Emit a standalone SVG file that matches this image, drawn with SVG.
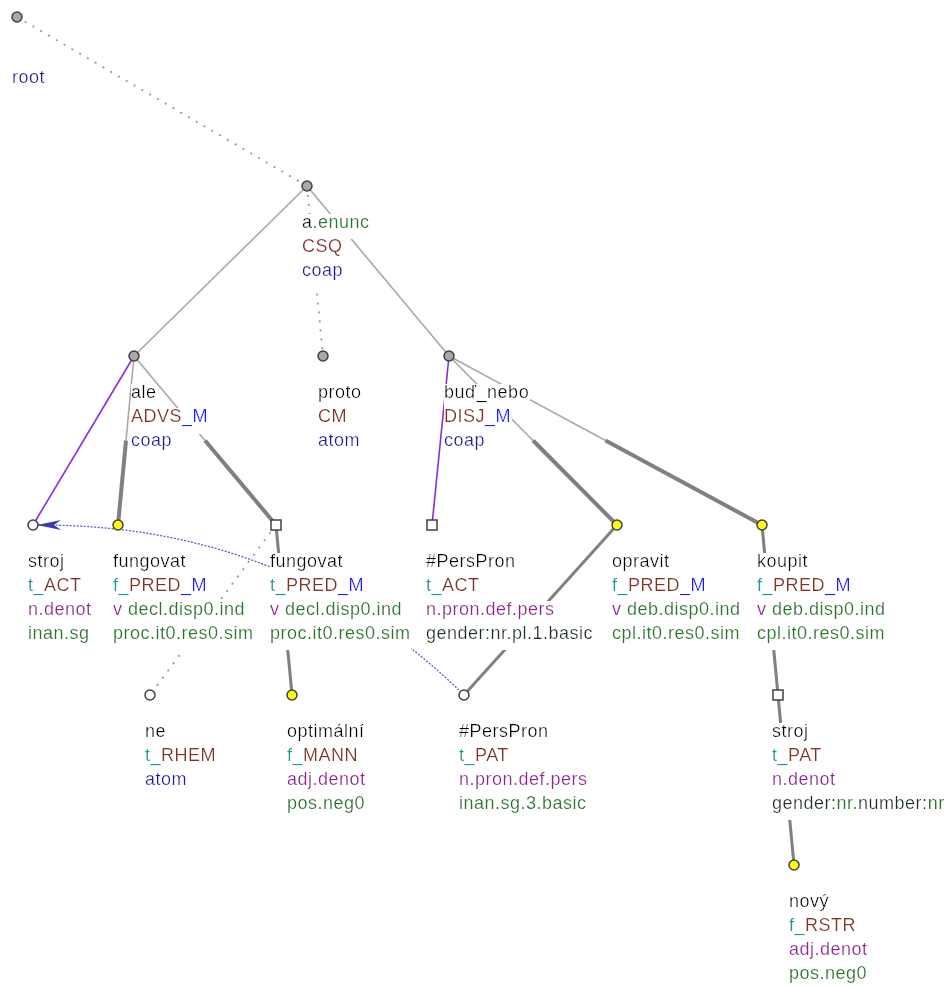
<svg xmlns="http://www.w3.org/2000/svg" width="952" height="987" viewBox="0 0 952 987">
<style>
text{font-family:"Liberation Sans",Arial,sans-serif;font-size:18px;letter-spacing:0.5px;fill:#000;filter:url(#bg)}
.k{fill:#000}.g{fill:#1e7d1e}.br{fill:#85321e}.bl{fill:#1a1aff}.nv{fill:#1a1aa6}.tl{fill:#0a9c9c}.pu{fill:#9a1a9a}.dk{fill:#16301c}
.thin{stroke:#a8a8a8;stroke-width:1.6;fill:none}
.thick{stroke:#808080;stroke-width:4;fill:none}
.med{stroke:#808080;stroke-width:3;fill:none}
.dot{stroke:#999;stroke-width:1.8;stroke-dasharray:2 7;fill:none}
.pur{stroke:#8a2be2;stroke-width:1.6;fill:none}
.coref{stroke:#5a5ac8;stroke-width:1.3;stroke-dasharray:2 1.5;fill:none}
.gc{fill:#a8a8a8;stroke:#404040;stroke-width:1.5}
.yc{fill:#ffff00;stroke:#404040;stroke-width:1.5}
.wc{fill:#fff;stroke:#404040;stroke-width:1.5}
</style>
<defs>
<filter id="bg" x="0" y="0.11" width="1" height="1.2"><feFlood flood-color="#fff"/><feComposite in="SourceGraphic"/></filter>
<marker id="arr" markerUnits="userSpaceOnUse" viewBox="0 0 24 12" refX="24" refY="6" markerWidth="24" markerHeight="12" orient="auto"><path d="M24,6 L0,1 L7,6 L0,11 Z" fill="#3c3cab"/></marker>
</defs>
<g id="edges">
<line class="dot" x1="17" y1="17" x2="307" y2="186"/>
<line class="thin" x1="307" y1="186" x2="134" y2="356"/>
<line class="dot" x1="307" y1="186" x2="323" y2="356"/>
<line class="thin" x1="307" y1="186" x2="449" y2="356"/>
<line class="pur" x1="134" y1="356" x2="33" y2="525"/>
<line class="thin" x1="134" y1="356" x2="126" y2="440.5"/>
<line class="thick" x1="126" y1="440.5" x2="118" y2="525"/>
<line class="thin" x1="134" y1="356" x2="205" y2="440.5"/>
<line class="thick" x1="205" y1="440.5" x2="276" y2="525"/>
<line class="pur" x1="449" y1="356" x2="432" y2="525"/>
<line class="thin" x1="449" y1="356" x2="533" y2="440.5"/>
<line class="thick" x1="533" y1="440.5" x2="617" y2="525"/>
<line class="thin" x1="449" y1="356" x2="605.5" y2="440.5"/>
<line class="thick" x1="605.5" y1="440.5" x2="762" y2="525"/>
<line class="dot" x1="276" y1="525" x2="150" y2="695"/>
<line class="med" x1="276" y1="525" x2="292" y2="695"/>
<line class="med" x1="617" y1="525" x2="464" y2="695"/>
<line class="med" x1="762" y1="525" x2="778" y2="695"/>
<line class="med" x1="778" y1="695" x2="794" y2="865"/>
<path class="coref" d="M464,695 Q290,524 37,525" marker-end="url(#arr)"/>
</g>
<g id="n-root"><circle class="gc" cx="17" cy="17" r="5"/><text x="12" y="83" class="nv">root</text></g>
<g id="n-aenunc"><circle class="gc" cx="307" cy="186" r="5"/>
<text x="302" y="228"><tspan class="k">a</tspan><tspan class="g">.enunc</tspan></text>
<text x="302" y="252" class="br">CSQ</text>
<text x="302" y="276" class="nv">coap</text></g>
<g id="n-ale"><circle class="gc" cx="134" cy="356" r="5"/>
<text x="131" y="398">ale</text>
<text x="131" y="422"><tspan class="br">ADVS</tspan><tspan class="bl">_M</tspan></text>
<text x="131" y="446" class="nv">coap</text></g>
<g id="n-proto"><circle class="gc" cx="323" cy="356" r="5"/>
<text x="318" y="398">proto</text>
<text x="318" y="422" class="br">CM</text>
<text x="318" y="446" class="nv">atom</text></g>
<g id="n-bud"><circle class="gc" cx="449" cy="356" r="5"/>
<text x="444" y="398">buď_nebo</text>
<text x="444" y="422"><tspan class="br">DISJ</tspan><tspan class="bl">_M</tspan></text>
<text x="444" y="446" class="nv">coap</text></g>
<g id="n-stroj1"><circle class="wc" cx="33" cy="525" r="5"/>
<text x="28" y="567">stroj</text>
<text x="28" y="591"><tspan class="tl">t_</tspan><tspan class="br">ACT</tspan></text>
<text x="28" y="615" class="pu">n.denot</text>
<text x="28" y="639" class="g">inan.sg</text></g>
<g id="n-fung1"><circle class="yc" cx="118" cy="525" r="5"/>
<text x="113" y="567">fungovat</text>
<text x="113" y="591"><tspan class="tl">f_</tspan><tspan class="br">PRED</tspan><tspan class="bl">_M</tspan></text>
<text x="113" y="615"><tspan class="pu">v</tspan><tspan class="g"> decl.disp0.ind</tspan></text>
<text x="113" y="639" class="g">proc.it0.res0.sim</text></g>
<g id="n-fung2"><rect class="wc" x="271" y="520" width="10" height="10"/>
<text x="270" y="567">fungovat</text>
<text x="270" y="591"><tspan class="tl">t_</tspan><tspan class="br">PRED</tspan><tspan class="bl">_M</tspan></text>
<text x="270" y="615"><tspan class="pu">v</tspan><tspan class="g"> decl.disp0.ind</tspan></text>
<text x="270" y="639" class="g">proc.it0.res0.sim</text></g>
<g id="n-pp1"><rect class="wc" x="427" y="520" width="10" height="10"/>
<text x="426" y="567">#PersPron</text>
<text x="426" y="591"><tspan class="tl">t_</tspan><tspan class="br">ACT</tspan></text>
<text x="426" y="615" class="pu">n.pron.def.pers</text>
<text x="426" y="639" class="dk">gender:nr.pl.1.basic</text></g>
<g id="n-opravit"><circle class="yc" cx="617" cy="525" r="5"/>
<text x="612" y="567">opravit</text>
<text x="612" y="591"><tspan class="tl">f_</tspan><tspan class="br">PRED</tspan><tspan class="bl">_M</tspan></text>
<text x="612" y="615"><tspan class="pu">v</tspan><tspan class="g"> deb.disp0.ind</tspan></text>
<text x="612" y="639" class="g">cpl.it0.res0.sim</text></g>
<g id="n-koupit"><circle class="yc" cx="762" cy="525" r="5"/>
<text x="757" y="567">koupit</text>
<text x="757" y="591"><tspan class="tl">f_</tspan><tspan class="br">PRED</tspan><tspan class="bl">_M</tspan></text>
<text x="757" y="615"><tspan class="pu">v</tspan><tspan class="g"> deb.disp0.ind</tspan></text>
<text x="757" y="639" class="g">cpl.it0.res0.sim</text></g>
<g id="n-ne"><circle class="wc" cx="150" cy="695" r="5"/>
<text x="145" y="737">ne</text>
<text x="145" y="761"><tspan class="tl">t_</tspan><tspan class="br">RHEM</tspan></text>
<text x="145" y="785" class="nv">atom</text></g>
<g id="n-optimalni"><circle class="yc" cx="292" cy="695" r="5"/>
<text x="287" y="737">optimální</text>
<text x="287" y="761"><tspan class="tl">f_</tspan><tspan class="br">MANN</tspan></text>
<text x="287" y="785" class="pu">adj.denot</text>
<text x="287" y="809" class="g">pos.neg0</text></g>
<g id="n-pp2"><circle class="wc" cx="464" cy="695" r="5"/>
<text x="459" y="737">#PersPron</text>
<text x="459" y="761"><tspan class="tl">t_</tspan><tspan class="br">PAT</tspan></text>
<text x="459" y="785" class="pu">n.pron.def.pers</text>
<text x="459" y="809" class="g">inan.sg.3.basic</text></g>
<g id="n-stroj2"><rect class="wc" x="773" y="690" width="10" height="10"/>
<text x="772" y="737">stroj</text>
<text x="772" y="761"><tspan class="tl">t_</tspan><tspan class="br">PAT</tspan></text>
<text x="772" y="785" class="pu">n.denot</text>
<text x="772" y="809"><tspan class="dk">gender:</tspan><tspan class="g">nr.</tspan><tspan class="dk">number:</tspan><tspan class="g">nr</tspan></text></g>
<g id="n-novy"><circle class="yc" cx="794" cy="865" r="5"/>
<text x="789" y="907">nový</text>
<text x="789" y="931"><tspan class="tl">f_</tspan><tspan class="br">RSTR</tspan></text>
<text x="789" y="955" class="pu">adj.denot</text>
<text x="789" y="979" class="g">pos.neg0</text></g>
</svg>
